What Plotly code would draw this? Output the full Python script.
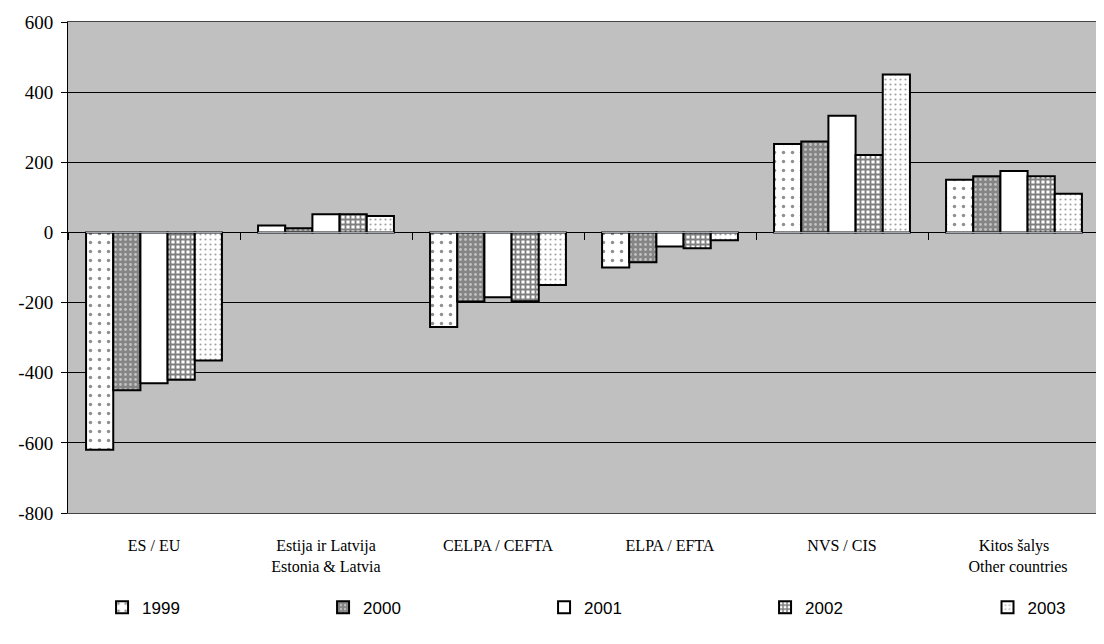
import plotly.graph_objects as go

categories = ["ES / EU", "Estija ir Latvija<br>Estonia & Latvia", "CELPA / CEFTA",
              "ELPA / EFTA", "NVS / CIS", "Kitos šalys<br>  Other countries"]
years = ["1999", "2000", "2001", "2002", "2003"]
v1999 = [-620, 20, -270, -100, 252, 150]
v2000 = [-450, 12, -197, -85, 259, 160]
v2001 = [-430, 52, -185, -40, 333, 175]
v2002 = [-420, 52, -196, -45, 221, 160]
v2003 = [-365, 47, -150, -22, 450, 110]
series = [v1999, v2000, v2001, v2002, v2003]
yticks = [-800, -600, -400, -200, 0, 200, 400, 600]
yticktext = ["-800", "-600", "-400", "-200", "0", "200", "400", "600"]

patterns = [
    dict(shape=".", bgcolor="white", fgcolor="#222", size=9, solidity=0.12, fillmode="overlay"),
    dict(shape=".", bgcolor="#858585", fgcolor="white", size=5, solidity=0.25, fillmode="overlay"),
    dict(shape="", bgcolor="white"),
    dict(shape="+", bgcolor="white", fgcolor="black", size=5, solidity=0.6, fillmode="overlay"),
    dict(shape=".", bgcolor="white", fgcolor="#444", size=5, solidity=0.15, fillmode="overlay"),
]
legend_ids = ["legend", "legend", "legend", "legend", "legend2"]

fig = go.Figure()
for name, vals, pat, lg in zip(years, series, patterns, legend_ids):
    fig.add_trace(go.Bar(
        x=categories, y=vals, name=name, legend=lg,
        marker=dict(color="white", line=dict(color="black", width=2), pattern=pat),
    ))

# invisible trace to carry the zero-line category ticks
fig.add_trace(go.Bar(x=categories, y=[0]*len(categories), xaxis="x2",
                     showlegend=False, hoverinfo="skip",
                     marker=dict(color="rgba(0,0,0,0)")))

font = "Times New Roman, Liberation Serif, serif"
legfont = dict(family="Arial, Liberation Sans", size=17)
fig.update_layout(
    width=1096, height=636,
    margin=dict(l=60, r=4, t=11, b=131),
    paper_bgcolor="white", plot_bgcolor="#C0C0C0",
    barmode="group", bargap=0.21, bargroupgap=0,
    font=dict(family=font, size=16, color="black"),
    showlegend=True,
    legend=dict(orientation="h", x=0.033, xanchor="left", y=-0.156, yanchor="top",
                entrywidth=176, font=legfont, itemwidth=30, traceorder="normal"),
    legend2=dict(orientation="h", x=0.891, xanchor="left", y=-0.156, yanchor="top",
                 font=legfont, itemwidth=30),
    xaxis=dict(type="category", categoryorder="array", categoryarray=categories,
               showline=True, linecolor="#444", linewidth=1, mirror=True,
               ticks="", showgrid=False, ticklabelstandoff=18,
               tickfont=dict(size=16, family=font)),
    xaxis2=dict(type="category", overlaying="x", matches="x", anchor="free",
                position=800 / 1400, showticklabels=False, ticks="outside",
                ticklen=7, tickwidth=1, tickcolor="black", tickson="boundaries",
                showline=False, showgrid=False),
    yaxis=dict(range=[-800, 600], tickvals=yticks, ticktext=yticktext,
               showgrid=True, gridcolor="black",
               gridwidth=1, zeroline=True, zerolinecolor="black", zerolinewidth=1,
               showline=True, linecolor="black", linewidth=1, ticks="outside",
               ticklen=6, tickcolor="black", ticklabelstandoff=4,
               tickfont=dict(size=19, family=font)),
)

fig.write_html("out.html")
